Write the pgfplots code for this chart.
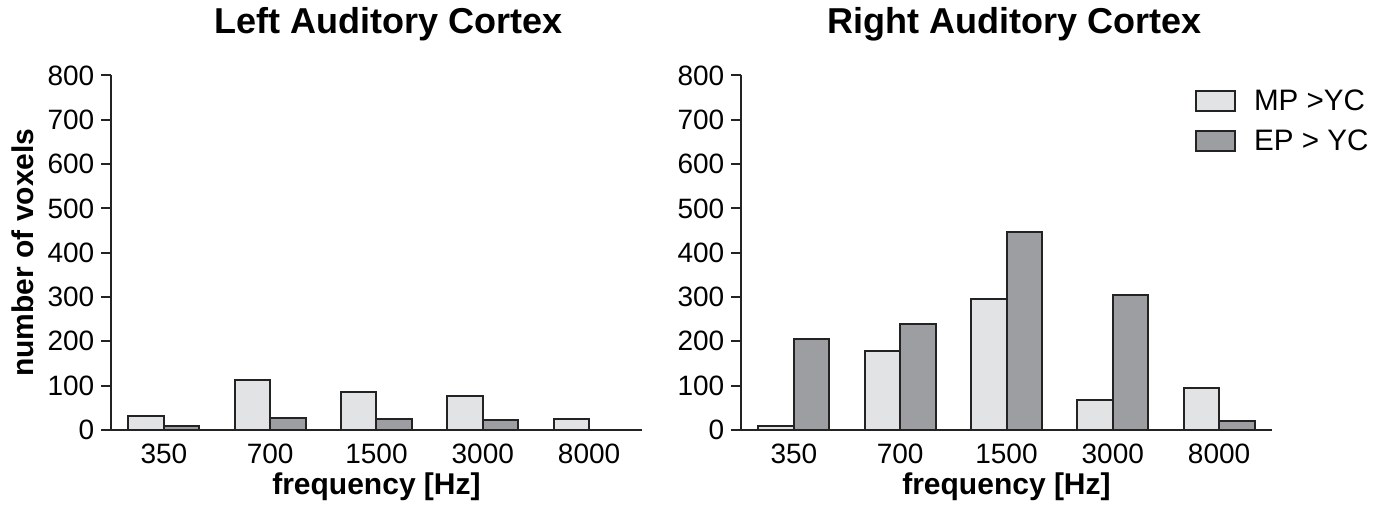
\documentclass[border=0pt]{standalone}
\usepackage{fontspec}
\setmainfont{Liberation Sans}
\usepackage{pgfplots}
\pgfplotsset{compat=1.18}
\definecolor{lightbar}{RGB}{226,227,229}
\definecolor{darkbar}{RGB}{157,158,162}
\definecolor{edge}{RGB}{35,35,35}

\pgfplotsset{
 mystyle/.style={
  scale only axis, width=265.8pt, height=177.3pt,
  ybar=0pt, bar width=17.75pt,
  xmin=-0.5, xmax=4.5, ymin=0, ymax=800,
  xtick={0,1,2,3,4}, xticklabels={350,700,1500,3000,8000},
  ytick={0,100,...,800},
  axis x line*=bottom, axis y line*=left,
  axis line style={line width=1pt, edge},
  x tick style={draw=none},
  y tick style={line width=1pt, edge},
  tick align=outside, major tick length=4.7pt,
  /pgf/number format/assume math mode=true,
  tick label style={font=\fontsize{14}{16}\selectfont, text=black},
  xticklabel style={yshift=1.5pt},
  xlabel={frequency [Hz]},
  xlabel style={font=\bfseries\fontsize{15}{18}\selectfont, at={(axis description cs:0.5,0)}, anchor=base, yshift=-32.5pt},
  every axis plot/.append style={draw=edge, line width=1pt},
  legend image code/.code={\draw[##1] (0pt,-5pt) rectangle (19.5pt,5pt);},
 }
}

\begin{document}
\begin{tikzpicture}
\begin{axis}[mystyle, at={(0pt,0pt)}, anchor=south west,
  title={Left Auditory Cortex},
  title style={font=\bfseries\fontsize{18}{21}\selectfont, at={(axis description cs:0.523,1)}, anchor=base, yshift=15pt},
  ylabel={number of voxels},
  ylabel style={font=\bfseries\fontsize{15}{18}\selectfont, at={(axis description cs:-0.146,0.5)}, anchor=base},
]
\addplot[fill=lightbar] coordinates {(0,32) (1,112) (2,85) (3,77) (4,25)};
\addplot[fill=darkbar] coordinates {(0,10) (1,26) (2,25) (3,23)};
\end{axis}
\begin{axis}[mystyle, at={(315pt,0pt)}, anchor=south west,
  title={Right Auditory Cortex},
  title style={font=\bfseries\fontsize{18}{21}\selectfont, at={(axis description cs:0.515,1)}, anchor=base, yshift=15pt},
  legend style={at={(axis description cs:0.854,0.96)}, anchor=north west, draw=none, fill=none, inner sep=0pt,
    font=\fontsize{14.8}{17}\selectfont, row sep=9pt, column sep=9pt,
    nodes={inner sep=0pt, text height=10pt, text depth=0pt}, cells={anchor=west}},
]
\addplot[fill=lightbar] coordinates {(0,10) (1,178) (2,295) (3,67) (4,95)};
\addplot[fill=darkbar] coordinates {(0,205) (1,239) (2,446) (3,305) (4,20)};
\legend{MP >YC, EP > YC}
\end{axis}
\pgfresetboundingbox
\useasboundingbox (-55.35pt,-38pt) rectangle (635.65pt,215pt);
\end{tikzpicture}
\end{document}
